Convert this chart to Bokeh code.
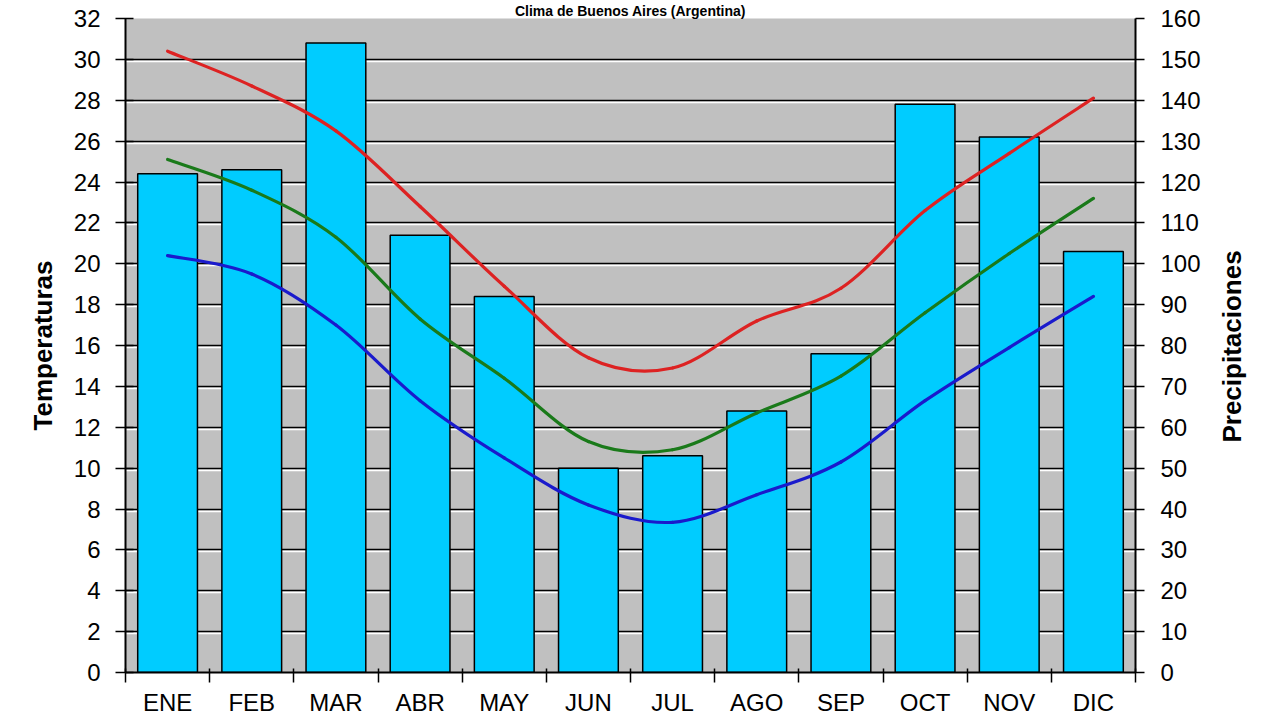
import math
from bokeh.plotting import figure
from bokeh.models import (Range1d, LinearAxis, FixedTicker, Grid, Title, ColumnDataSource)
from bokeh.embed import file_html
from bokeh.resources import INLINE

# ---- data ----
months = ["ENE", "FEB", "MAR", "ABR", "MAY", "JUN", "JUL", "AGO", "SEP", "OCT", "NOV", "DIC"]
precip = [122, 123, 154, 107, 92, 50, 53, 64, 78, 139, 131, 103]
t_max = [30.4, 28.7, 26.5, 22.8, 18.9, 15.4, 14.9, 17.2, 18.8, 22.6, 25.4, 28.1]
t_med = [25.1, 23.6, 21.3, 17.3, 14.4, 11.3, 10.9, 12.7, 14.5, 17.6, 20.5, 23.2]
t_min = [20.4, 19.5, 17.0, 13.3, 10.5, 8.2, 7.35, 8.7, 10.3, 13.3, 15.9, 18.4]
temp_ticks = list(range(0, 33, 2))
precip_ticks = list(range(0, 161, 10))

title = "Clima de Buenos Aires (Argentina)"
left_title = "Temperaturas"
right_title = "Precipitaciones"
FONT = "Liberation Sans"

xc = [i + 0.5 for i in range(len(months))]
bounds = list(range(len(months) + 1))

p = figure(frame_width=1010, frame_height=654,
           x_range=Range1d(0, 12), y_range=Range1d(0, 32),
           output_backend="svg", toolbar_location=None,
           min_border_left=125, min_border_right=145,
           min_border_top=18, min_border_bottom=48,
           background_fill_color="#C0C0C0", border_fill_color="white",
           outline_line_color=None)

p.extra_y_ranges = {"precip": Range1d(0, 160), "gridw": Range1d(0.1, 32.1)}

# grids (black line with white highlight just below)
p.xgrid.visible = False
p.ygrid.ticker = FixedTicker(ticks=temp_ticks[1:-1])
p.ygrid.grid_line_color = "black"
p.ygrid.grid_line_width = 1.6
p.ygrid.grid_line_alpha = 1.0
gw = Grid(dimension=1, ticker=FixedTicker(ticks=temp_ticks[1:-1]), y_range_name="gridw",
          grid_line_color="white", grid_line_width=1.6)
p.add_layout(gw)


def style_axis(ax):
    ax.minor_tick_line_color = None
    ax.axis_line_width = 2
    ax.axis_line_color = "black"
    ax.major_tick_line_width = 1.5
    ax.major_tick_line_color = "black"
    ax.major_label_text_font = FONT
    ax.major_label_text_font_size = "24px"
    ax.major_label_text_color = "black"
    ax.axis_label_text_font = FONT
    ax.axis_label_text_font_size = "26px"
    ax.axis_label_text_font_style = "bold"
    ax.axis_label_text_color = "black"


# left axis
ly = p.yaxis[0]
style_axis(ly)
ly.ticker = FixedTicker(ticks=temp_ticks)
ly.major_tick_out = 10
ly.major_tick_in = 8
ly.major_label_standoff = 15
ly.axis_label = left_title
ly.axis_label_standoff = 13

# right axis (ticks and numbers)
ry = LinearAxis(y_range_name="precip", ticker=FixedTicker(ticks=precip_ticks))
style_axis(ry)
ry.major_tick_out = 9
ry.major_tick_in = 0
ry.major_label_standoff = 16
p.add_layout(ry, "right")

# right axis title, reading bottom-to-top like the reference:
# drawn as a single rotated label that starts at its anchor and runs upward
title_anchor = 56.25
rt = LinearAxis(y_range_name="precip", ticker=FixedTicker(ticks=[title_anchor]))
style_axis(rt)
rt.axis_line_color = None
rt.major_tick_line_color = None
rt.major_tick_out = 0
rt.major_tick_in = 0
rt.major_label_standoff = 28
rt.major_label_overrides = {title_anchor: right_title}
rt.major_label_orientation = math.pi / 2
rt.major_label_text_font_size = "26px"
rt.major_label_text_font_style = "bold"
p.add_layout(rt, "right")

# bottom axis: labels at category centres, tick marks at category boundaries
bx = p.xaxis[0]
style_axis(bx)
bx.ticker = FixedTicker(ticks=xc, minor_ticks=bounds)
bx.major_label_overrides = {x: m for x, m in zip(xc, months)}
bx.major_tick_line_color = None
bx.major_tick_out = 10
bx.major_tick_in = 0
bx.minor_tick_line_color = "black"
bx.minor_tick_line_width = 1.5
bx.minor_tick_out = 10
bx.minor_tick_in = 4
bx.major_label_standoff = 6

# bars
src = ColumnDataSource(dict(x=xc, top=precip, month=months))
p.vbar(x="x", top="top", width=0.71, source=src, y_range_name="precip",
       fill_color="#00CCFF", line_color="black", line_width=1.5)


# smoothed lines (Bezier segments through the data points)
def smooth(xs, ys):
    n = len(xs)
    out = dict(x0=[], y0=[], x1=[], y1=[], cx0=[], cy0=[], cx1=[], cy1=[])
    for i in range(n - 1):
        xp, yp = (xs[i - 1], ys[i - 1]) if i > 0 else (xs[i], ys[i])
        xn2, yn2 = (xs[i + 2], ys[i + 2]) if i + 2 < n else (xs[i + 1], ys[i + 1])
        out["x0"].append(xs[i]); out["y0"].append(ys[i])
        out["x1"].append(xs[i + 1]); out["y1"].append(ys[i + 1])
        out["cx0"].append(xs[i] + (xs[i + 1] - xp) / 6.0)
        out["cy0"].append(ys[i] + (ys[i + 1] - yp) / 6.0)
        out["cx1"].append(xs[i + 1] - (xn2 - xs[i]) / 6.0)
        out["cy1"].append(ys[i + 1] - (yn2 - ys[i]) / 6.0)
    return out


for series, color in [(t_max, "#DD2222"), (t_med, "#1A7A1A"), (t_min, "#1A1ACC")]:
    s = smooth(xc, series)
    p.bezier(x0="x0", y0="y0", x1="x1", y1="y1", cx0="cx0", cy0="cy0",
             cx1="cx1", cy1="cy1", source=ColumnDataSource(s),
             line_color=color, line_width=3.2, line_cap="round")

# chart title in the narrow strip above the plot
p.add_layout(Title(text=title, align="center", offset=20, standoff=0,
                   text_font=FONT, text_font_size="14px", text_font_style="bold",
                   text_color="black"), "above")

open("out.html", "w").write(file_html(p, INLINE))
